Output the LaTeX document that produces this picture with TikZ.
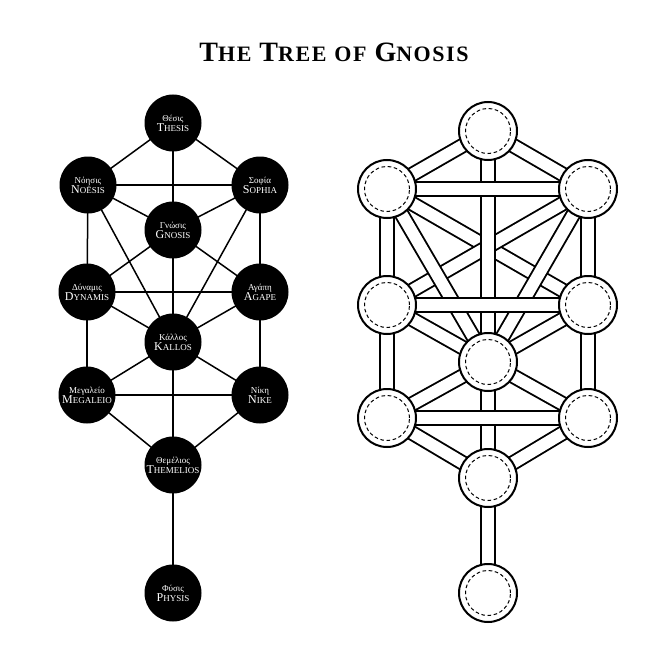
\documentclass[tikz,border=0pt]{standalone}
\usepackage{fontspec}
\setmainfont{Liberation Serif}
\usetikzlibrary{backgrounds}
% caps with a taller first letter
\newcommand{\capsname}[2]{{\fontsize{12}{10}\selectfont #1}{\fontsize{9}{8}\selectfont #2}}
\newcommand{\titlecaps}[2]{{\fontsize{28}{26}\selectfont #1}{\fontsize{22}{20}\selectfont #2}}

\begin{document}
\begin{tikzpicture}[x=1pt,y=-1pt,
    sephira/.style={circle,fill=black,minimum size=57pt,inner sep=0pt,text=white,
      align=center,font=\fontsize{9}{10}\selectfont},
    link/.style={line width=1.5pt,black},
    ring/.style={circle,draw=black,fill=white,line width=2pt,minimum size=58pt,inner sep=0pt},
    dashring/.style={line width=1pt,dash pattern=on 3.6pt off 2.6pt},
    channel/.style={line width=15.5pt,black},
    hollow/.style={line width=11.7pt,white}]
  \useasboundingbox (0,0) rectangle (658,658);

  \node[font=\bfseries\addfontfeatures{LetterSpace=7}] (title) at (334,52)
    {\titlecaps{T}{HE}\hspace{8pt}\titlecaps{T}{REE}\hspace{8pt}\titlecaps{}{OF}\hspace{8pt}\titlecaps{G}{NOSIS}};

  % left tree
  \foreach \n/\x/\y/\g/\f/\r in {thesis/173/123/Θέσις/T/HESIS,
      noesis/88/185/Νόησις/N/OËSIS, sophia/260/185/Σοφία/S/OPHIA,
      gnosis/173/230/Γνώσις/G/NOSIS,
      dynamis/87/292/Δύναμις/D/YNAMIS, agape/260/292/Αγάπη/A/GAPE,
      kallos/173/342/Κάλλος/K/ALLOS,
      megaleio/87/395/Μεγαλείο/M/EGALEIO, nike/260/395/Νίκη/N/IKE,
      themelios/173/465/Θεμέλιος/T/HEMELIOS, physis/173/593/Φύσις/P/HYSIS}
    \node[sephira] (\n) at (\x,\y) {\g\\\capsname{\f}{\r}};

  \begin{scope}[on background layer]
    \fill[white] (0,0) rectangle (658,658);
    \foreach \a/\b in {thesis/noesis,thesis/sophia,thesis/gnosis,noesis/sophia,
        noesis/gnosis,sophia/gnosis,noesis/dynamis,sophia/agape,noesis/kallos,
        sophia/kallos,gnosis/dynamis,gnosis/agape,gnosis/kallos,dynamis/agape,
        dynamis/kallos,agape/kallos,dynamis/megaleio,agape/nike,kallos/megaleio,
        kallos/nike,kallos/themelios,megaleio/nike,megaleio/themelios,
        nike/themelios,themelios/physis}
      \draw[link] (\a.center) -- (\b.center);
  \end{scope}

  % right tree
  \foreach \n/\x/\y in {rt/488/131, rl1/387/189, rr1/588/189, rl2/387/305,
      rr2/588/305, rc/488/362, rl3/387/418, rr3/588/418, ry/488/478, rm/488/593} {
    \node[ring] (\n) at (\x,\y) {};
    \draw[dashring] (\n.center) circle[radius=22.5pt];
  }

  \begin{scope}[on background layer]
    \foreach \a/\b in {rl1/rr2,rr1/rl2,rl1/rc,rr1/rc,rl2/rc,rr2/rc,rc/rl3,rc/rr3,
        rl3/ry,rr3/ry,ry/rm,rt/rl1,rt/rr1,rl1/rl2,rr1/rr2,rl2/rl3,rr2/rr3,
        rt/rc,rc/ry,rl1/rr1,rl2/rr2,rl3/rr3} {
      \draw[channel] (\a.center) -- (\b.center);
      \draw[hollow] (\a.center) -- (\b.center);
    }
  \end{scope}
\end{tikzpicture}
\end{document}
